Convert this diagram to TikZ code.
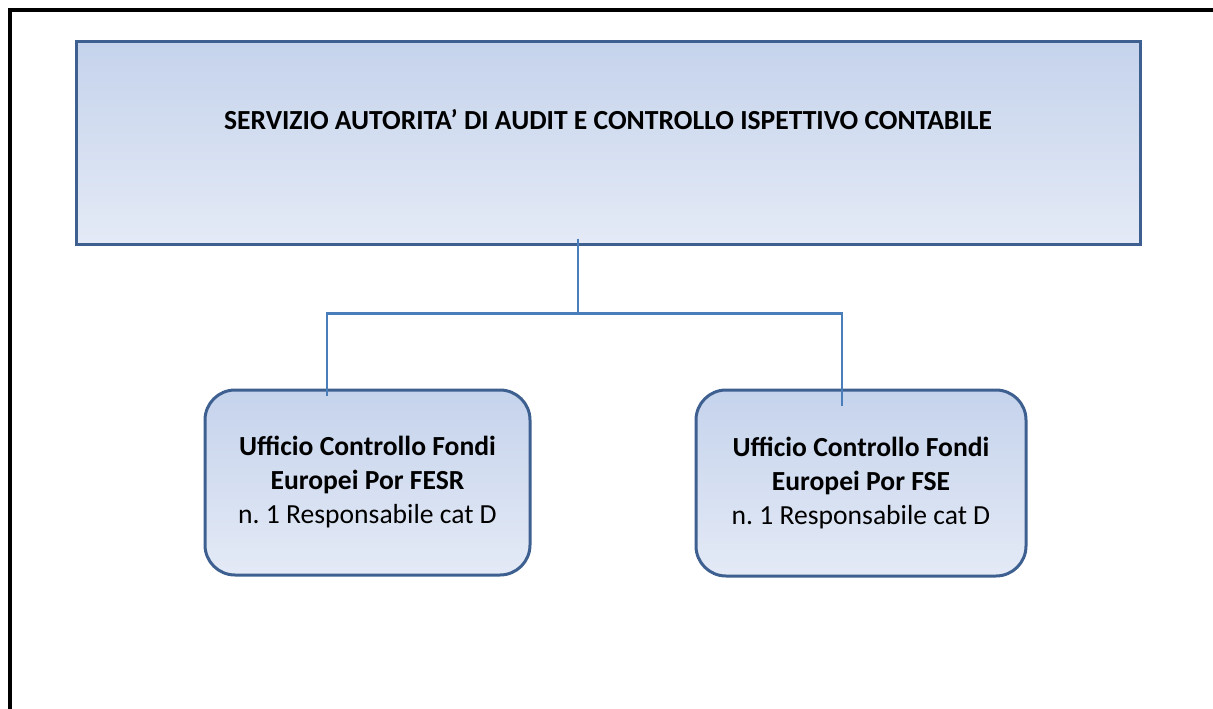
\documentclass[tikz,border=0pt]{standalone}
\usepackage{fontspec}
\setmainfont{Carlito}
\usepackage{tikz}
\usetikzlibrary{positioning}
\definecolor{auditBorder}{RGB}{61, 96, 145}
\definecolor{auditTop}{RGB}{197, 211, 236}
\definecolor{auditBottom}{RGB}{228, 234, 246}
\definecolor{linkColor}{RGB}{74, 126, 187}
\frenchspacing

\begin{document}
\begin{tikzpicture}[x=1pt, y=-1pt,
        unitbox/.style={draw=auditBorder, line width=3pt, top color=auditTop,
                        bottom color=auditBottom, align=center},
        officebox/.style={unitbox, rounded corners=30pt, font=\fontsize{27.6}{34}\selectfont},
        link/.style={draw=linkColor, line width=2.5pt}]
        % Page frame
        \useasboundingbox (0,0) rectangle (1213,709);
        \draw[line width=4pt] (10,10) rectangle (1240,740);

        % Service box
        \node[unitbox, minimum width=1064pt, minimum height=202pt,
              label={[font=\fontsize{27.6}{32}\selectfont\bfseries, yshift=23pt]center:SERVIZIO AUTORITA’ DI AUDIT E CONTROLLO ISPETTIVO CONTABILE}]
              (servizio) at (608,143) {};

        % Office boxes
        \node[officebox, minimum width=325pt, minimum height=185pt]
              (fesr) at (367.5,482.5) {\textbf{Ufficio Controllo Fondi}\\\textbf{Europei Por FESR}\\n. 1 Responsabile cat D};
        \node[officebox, minimum width=330pt, minimum height=186pt]
              (fse) at (861,483) {\textbf{Ufficio Controllo Fondi}\\\textbf{Europei Por FSE}\\n. 1 Responsabile cat D};

        % Connectors
        \draw[link] ([xshift=-30pt, yshift=7pt]servizio.south) -- ++(0,75) coordinate (hub);
        \draw[link] ([xshift=-40.5pt, yshift=-7pt]fesr.north) |- (hub) -| ([xshift=-19pt, yshift=-17pt]fse.north);
\end{tikzpicture}
\end{document}
